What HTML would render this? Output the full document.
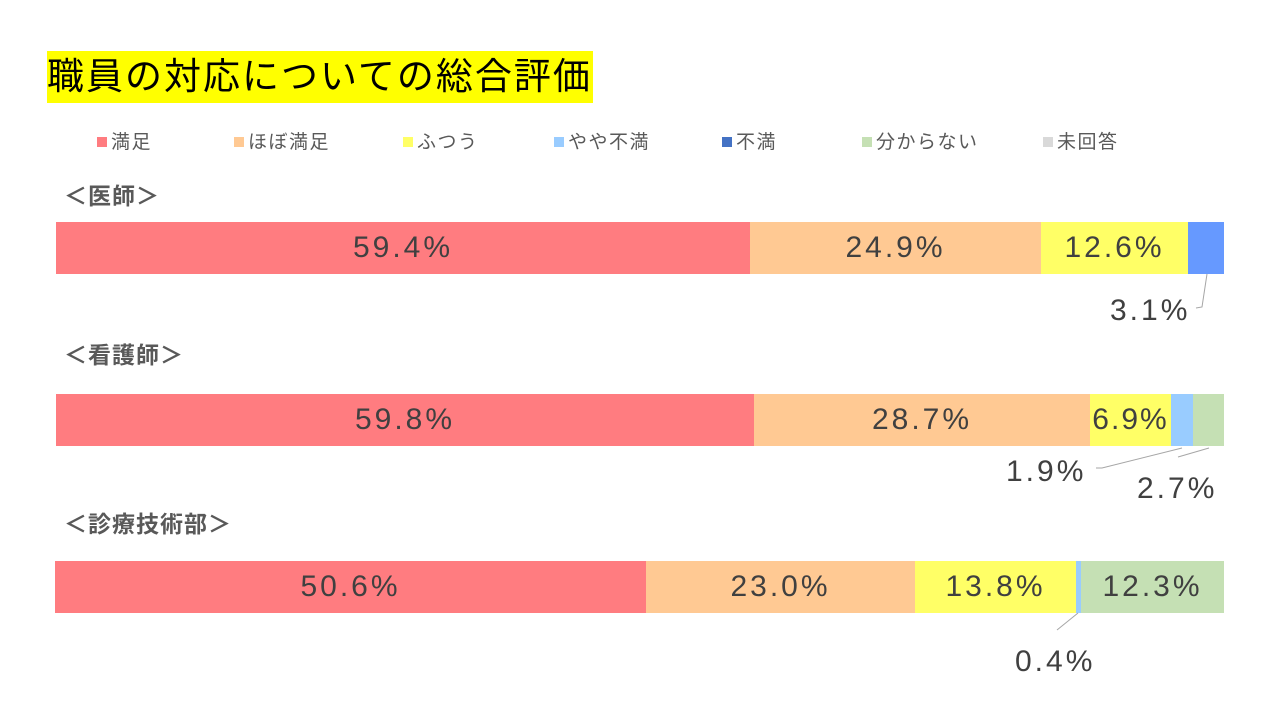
<!DOCTYPE html>
<html><head><meta charset="utf-8"><style>
body{margin:0;width:1280px;height:720px;background:#fff;position:relative;overflow:hidden;font-family:"Liberation Sans","Noto Sans CJK JP",sans-serif;}
.a{position:absolute;}
.t{left:47px;top:51px;width:546px;height:52px;background:#ffff00;font-size:37px;line-height:52px;color:#000;white-space:nowrap;letter-spacing:2px;}
.lg{top:131px;font-size:19px;color:#595959;line-height:24px;white-space:nowrap;letter-spacing:1.5px;}
.lg i{display:inline-block;width:10px;height:10px;margin-right:4px;vertical-align:1px;}
.h{font-size:23px;font-weight:bold;color:#595959;white-space:nowrap;line-height:30px;letter-spacing:1px;}
.s{height:52px;line-height:52px;text-align:center;font-size:30px;color:#404040;white-space:nowrap;overflow:visible;letter-spacing:3px;}
.l{font-size:30px;color:#404040;white-space:nowrap;line-height:34px;letter-spacing:3px;}
</style></head><body>
<div class="a t">職員の対応についての総合評価</div>
<div class="a lg" style="left:97px"><i style="background:#FF7C80"></i>満足</div>
<div class="a lg" style="left:234px"><i style="background:#FFC993"></i>ほぼ満足</div>
<div class="a lg" style="left:403px"><i style="background:#FFFF66"></i>ふつう</div>
<div class="a lg" style="left:554px"><i style="background:#99CCFF"></i>やや不満</div>
<div class="a lg" style="left:722px"><i style="background:#4472C4"></i>不満</div>
<div class="a lg" style="left:862px"><i style="background:#C5E0B4"></i>分からない</div>
<div class="a lg" style="left:1043px"><i style="background:#D9D9D9"></i>未回答</div>

<div class="a h" style="left:64px;top:181px">＜医師＞</div>
<div class="a h" style="left:64px;top:340px">＜看護師＞</div>
<div class="a h" style="left:64px;top:509px">＜診療技術部＞</div>

<div class="a s" style="top:222px;left:56px;width:694px;background:#FF7C80">59.4%</div>
<div class="a s" style="top:222px;left:750px;width:291px;background:#FFC993">24.9%</div>
<div class="a s" style="top:222px;left:1041px;width:147px;background:#FFFF66">12.6%</div>
<div class="a s" style="top:222px;left:1188px;width:36px;background:#6699FF"></div>

<div class="a s" style="top:394px;left:56px;width:698px;background:#FF7C80">59.8%</div>
<div class="a s" style="top:394px;left:754px;width:336px;background:#FFC993">28.7%</div>
<div class="a s" style="top:394px;left:1090px;width:81px;background:#FFFF66;letter-spacing:2px">6.9%</div>
<div class="a s" style="top:394px;left:1171px;width:22px;background:#99CCFF"></div>
<div class="a s" style="top:394px;left:1193px;width:31px;background:#C5E0B4"></div>

<div class="a s" style="top:561px;left:55px;width:591px;background:#FF7C80">50.6%</div>
<div class="a s" style="top:561px;left:646px;width:269px;background:#FFC993">23.0%</div>
<div class="a s" style="top:561px;left:915px;width:161px;background:#FFFF66">13.8%</div>
<div class="a s" style="top:561px;left:1076px;width:5px;background:#99CCFF"></div>
<div class="a s" style="top:561px;left:1081px;width:143px;background:#C5E0B4">12.3%</div>

<svg class="a" style="left:0;top:0" width="1280" height="720">
<g stroke="#a6a6a6" stroke-width="1" fill="none">
<polyline points="1207,274 1202,307 1196,308"/>
<polyline points="1182,448 1102,468 1096,468"/>
<polyline points="1209,448 1178,457"/>
<polyline points="1078,613 1057,630"/>
</g></svg>
<div class="a l" style="left:1110px;top:294px">3.1%</div>
<div class="a l" style="left:1006px;top:455px">1.9%</div>
<div class="a l" style="left:1137px;top:472px">2.7%</div>
<div class="a l" style="left:1015px;top:645px">0.4%</div>
</body></html>
